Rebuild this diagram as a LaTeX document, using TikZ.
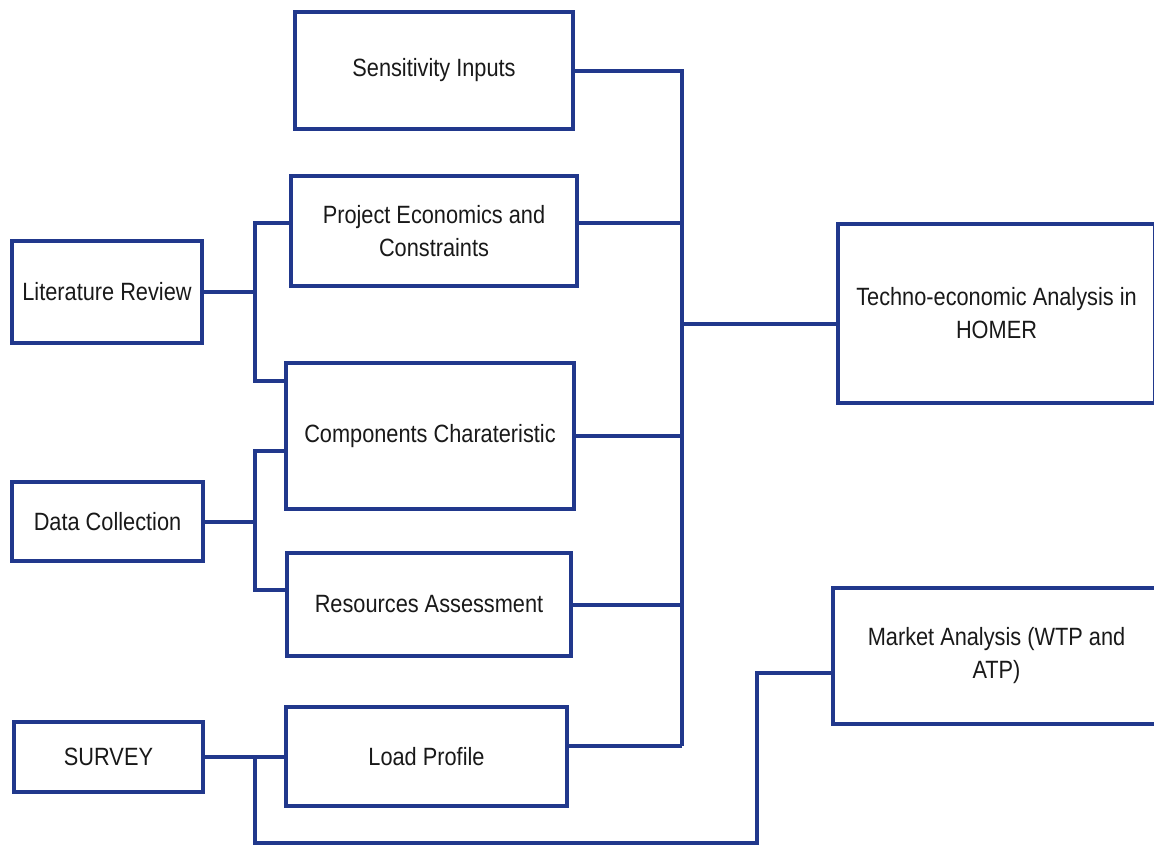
\documentclass[tikz,border=0pt]{standalone}
\usepackage{fontspec}
\setmainfont{Liberation Sans}[FakeStretch=0.87]
\definecolor{boxblue}{RGB}{33,56,140}
\tikzset{
  box/.style={draw=boxblue, line width=2pt, align=center, inner sep=0pt,
    font=\fontsize{12.5}{16.5}\selectfont, text=black!90},
  link/.style={draw=boxblue, line width=2pt}
}
\begin{document}
\begin{tikzpicture}[x=0.5pt,y=0.5pt,yscale=-1,xscale=1]
        \useasboundingbox (0,0) rectangle (1154,846);
        \clip (0,0) rectangle (1154,846);
        %Shape: Rectangle [sens]
        \node [box, minimum width=139pt, minimum height=58.5pt] (sens) at (434,70.5) {Sensitivity Inputs};
        %Shape: Rectangle [proj]
        \node [box, minimum width=143pt, minimum height=55pt] (proj) at (434,231) {Project Economics and\\Constraints};
        %Shape: Rectangle [comp]
        \node [box, minimum width=144pt, minimum height=73pt] (comp) at (430,436) {Components Charateristic};
        %Shape: Rectangle [res]
        \node [box, minimum width=142pt, minimum height=51.5pt] (res) at (429,604.5) {Resources Assessment};
        %Shape: Rectangle [load]
        \node [box, minimum width=140.5pt, minimum height=49.5pt] (load) at (426.5,756.5) {Load Profile};
        %Shape: Rectangle [lit]
        \node [box, minimum width=95pt, minimum height=51pt] (lit) at (107,292) {Literature Review};
        %Shape: Rectangle [data]
        \node [box, minimum width=95.5pt, minimum height=39.5pt] (data) at (107.5,521.5) {Data Collection};
        %Shape: Rectangle [survey]
        \node [box, minimum width=94.5pt, minimum height=35pt] (survey) at (108.5,757) {SURVEY};
        %Shape: Rectangle [homer]
        \node [box, minimum width=158.5pt, minimum height=89.5pt] (homer) at (996.5,313.5) {Techno-economic Analysis in\\HOMER};
        %Shape: Rectangle [market]
        \node [box, minimum width=163.5pt, minimum height=68pt] (market) at (996.5,656) {Market Analysis (WTP and\\ATP)};

        % Junctions
        \coordinate (busTop) at (682,70.5);
        \coordinate (busBot) at (682,746);
        \coordinate (busMid) at (682,324);
        \coordinate (litA) at (255,223);
        \coordinate (litB) at (255,381);
        \coordinate (dataA) at (255,451);
        \coordinate (dataB) at (255,590);
        \coordinate (survA) at (255,757);
        \coordinate (survB) at (255,843);
        \coordinate (survC) at (757,843);
        \coordinate (survD) at (757,673);

        %Straight Lines [bus]
        \draw [link] (sens.east) -- (busTop) -- (busBot);
        \draw [link] (proj.east |- litA) -- (litA -| busTop);
        \draw [link] (comp.east) -- (comp.east -| busTop);
        \draw [link] (res.east) -- (res.east -| busTop);
        \draw [link] (load.east |- busBot) -- (busBot);
        \draw [link] (busMid) -- (busMid -| homer.west);

        %Straight Lines [literature]
        \draw [link] (lit.east) -- (lit.east -| litA);
        \draw [link] (proj.west |- litA) -- (litA) -- (litB) -- (litB -| comp.west);

        %Straight Lines [data]
        \draw [link] (data.east) -- (data.east -| dataA);
        \draw [link] (comp.west |- dataA) -- (dataA) -- (dataB) -- (dataB -| res.west);

        %Straight Lines [survey]
        \draw [link] (survey.east) -- (survey.east -| load.west);
        \draw [link] (survA) -- (survB) -- (survC) -- (survD) -- (survD -| market.west);
    \end{tikzpicture}
\end{document}
